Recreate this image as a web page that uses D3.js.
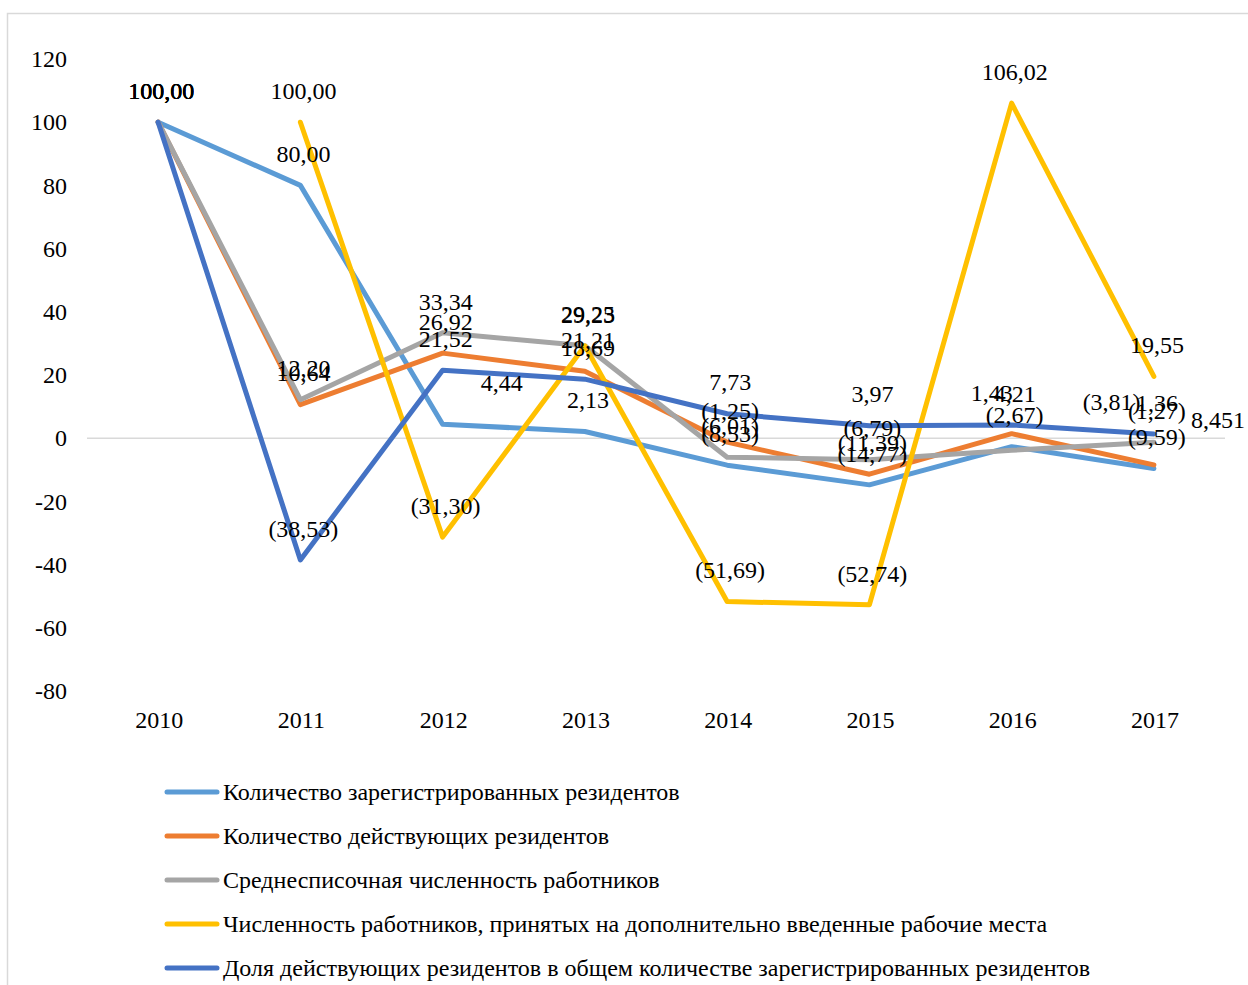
<!DOCTYPE html>
<html>
<head>
<meta charset="utf-8">
<script src="https://cdn.jsdelivr.net/npm/d3@7/dist/d3.min.js"></script>
<style>
  body { margin: 0; background: #fff; }
  svg text { font-family: "Liberation Serif", "Times New Roman", serif; fill: #000; }
</style>
</head>
<body>
<div id="chart"></div>
<script>
const years = ["2010", "2011", "2012", "2013", "2014", "2015", "2016", "2017"];
const seriesNames = [
  "Количество зарегистрированных резидентов",
  "Количество действующих резидентов",
  "Среднесписочная численность работников",
  "Численность работников, принятых на дополнительно введенные рабочие места",
  "Доля действующих резидентов в общем количестве зарегистрированных резидентов"
];
const registered = [100, 80, 4.44, 2.13, -8.53, -14.77, -2.67, -9.59];
const active = [100, 10.64, 26.92, 21.21, -1.25, -11.39, 1.43, -8.45];
const avgStaff = [100, 12.20, 33.34, 29.25, -6.01, -6.79, -3.81, -1.27];
const newJobs = [null, 100, -31.30, 29.23, -51.69, -52.74, 106.02, 19.55];
const activeShare = [100, -38.53, 21.52, 18.69, 7.73, 3.97, 4.21, 1.36];
const yTicks = [-80, -60, -40, -20, 0, 20, 40, 60, 80, 100, 120];

const colors = ["#5B9BD5", "#ED7D31", "#A5A5A5", "#FFC000", "#4472C4"];
const allSeries = [registered, active, avgStaff, newJobs, activeShare];

// data labels moved by hand in the original
const labelNudges = [
  { s: 0, year: "2012", dx: 56, dy: -10 },
  { s: 1, year: "2016", dx: -23, dy: -9 },
  { s: 2, year: "2016", dx: 97, dy: -17 },
  { s: 1, year: "2017", dx: 61, dy: -14, text: "8,451" }
];

const width = 1248, height = 985;
const svg = d3.select("#chart").append("svg")
  .attr("width", width).attr("height", height);

// chart border
svg.append("rect")
  .attr("x", 7.5).attr("y", 13.5)
  .attr("width", 1300).attr("height", 1100)
  .attr("fill", "none").attr("stroke", "#d9d9d9").attr("stroke-width", 1.5);

const x = d3.scaleBand().domain(years).range([87, 1225]).padding(0);
const cx = (yr) => x(yr) + x.bandwidth() / 2;
const y = d3.scaleLinear().domain([-80, 120]).range([691, 59]);

// y axis labels
svg.append("g")
  .attr("transform", "translate(67,0)")
  .call(d3.axisLeft(y).tickValues(yTicks).tickSize(0).tickPadding(0)
    .tickFormat(d => String(d)))
  .call(g => g.select(".domain").remove())
  .selectAll("text")
  .style("font-family", "Liberation Serif")
  .style("font-size", "24px")
  .attr("dy", "0.32em");

// zero line
svg.append("line")
  .attr("x1", 87).attr("x2", 1225)
  .attr("y1", y(0)).attr("y2", y(0))
  .attr("stroke", "#d9d9d9").attr("stroke-width", 1.5);

// x labels
svg.append("g")
  .selectAll("text")
  .data(years)
  .join("text")
  .attr("x", d => cx(d) + 1)
  .attr("y", 728)
  .attr("text-anchor", "middle")
  .style("font-size", "24px")
  .text(d => d);

const line = d3.line()
  .defined(d => d.v !== null)
  .x(d => cx(d.year))
  .y(d => y(d.v));

allSeries.forEach((vals, i) => {
  const pts = vals.map((v, j) => ({ year: years[j], v }));
  svg.append("path")
    .datum(pts)
    .attr("d", line)
    .attr("fill", "none")
    .attr("stroke", colors[i])
    .attr("stroke-width", 5)
    .attr("stroke-linejoin", "round")
    .attr("stroke-linecap", "round");
});

// data labels
const fmt = d3.formatLocale({ decimal: ",", thousands: " ", grouping: [3], currency: ["", ""] }).format(".2f");
const labelText = (v) => v < 0 ? `(${fmt(-v)})` : fmt(v);

const labelGroup = svg.append("g");
allSeries.forEach((vals, i) => {
  vals.forEach((v, j) => {
    if (v === null) return;
    const nudge = labelNudges.find(n => n.s === i && n.year === years[j]);
    labelGroup.append("text")
      .attr("x", cx(years[j]) + 3 + (nudge ? nudge.dx : 0))
      .attr("y", y(v) - 31 + (nudge ? nudge.dy : 0))
      .attr("dy", "0.32em")
      .attr("text-anchor", "middle")
      .style("font-size", "24px")
      .text(nudge && nudge.text ? nudge.text : labelText(v));
  });
});

// legend
const legend = svg.append("g")
  .selectAll("g")
  .data(seriesNames)
  .join("g")
  .attr("transform", (d, i) => `translate(0,${792 + i * 44})`);

legend.append("line")
  .attr("x1", 167).attr("x2", 217)
  .attr("stroke", (d, i) => colors[i])
  .attr("stroke-width", 5)
  .attr("stroke-linecap", "round");

legend.append("text")
  .attr("x", 223)
  .attr("dy", "0.32em")
  .style("font-size", "24px")
  .text(d => d);
</script>
</body>
</html>
